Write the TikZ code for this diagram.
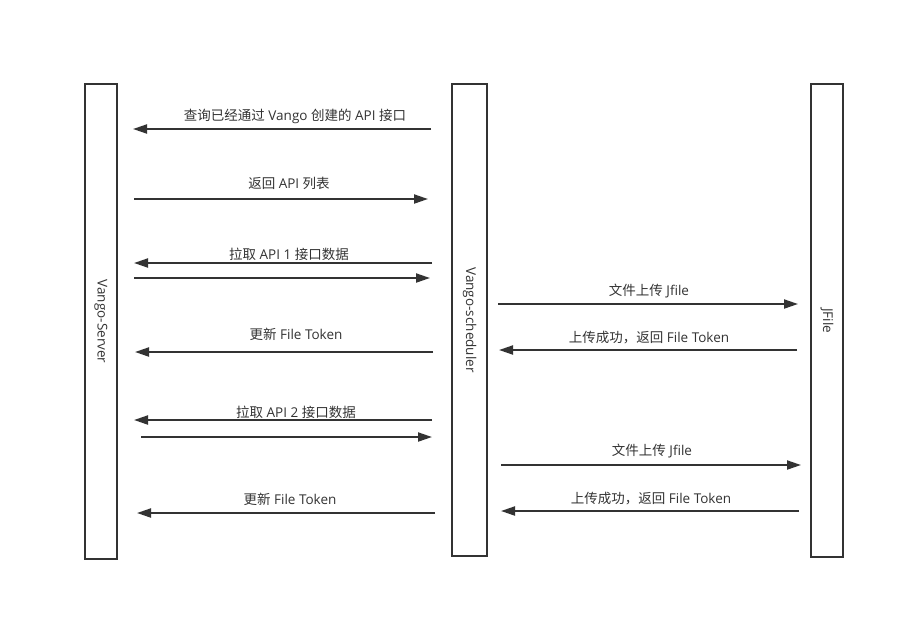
\documentclass[tikz,border=0pt]{standalone}
\usepackage{fontspec}
\setmainfont{Open Sans}
\newfontfamily\cjk{Noto Sans CJK SC}
\usetikzlibrary{arrows.meta}
\definecolor{ink}{HTML}{333333}
\begin{document}
\begin{tikzpicture}[x=1pt,y=-1pt,
  lifebox/.style={draw=ink,line width=1.5pt,fill=white,inner sep=0pt},
  boxlabel/.style={rotate=-90,font=\fontsize{13.5}{16}\selectfont,text=ink,inner sep=0pt},
  msg/.style={draw=ink,line width=2pt,-{Triangle[length=14pt,width=9pt]}},
  msglabel/.style={font=\fontsize{13.5}{16}\selectfont,text=ink,inner sep=0pt}]
\useasboundingbox[fill=white] (0,0) rectangle (904,622);
% lifelines
\node[lifebox,minimum width=32pt,minimum height=475pt] (srv) at (101,321.5) {};
\node[lifebox,minimum width=35pt,minimum height=472pt] (sch) at (469.5,320) {};
\node[lifebox,minimum width=32pt,minimum height=473pt] (jf) at (827,320.5) {};
\node[boxlabel] (srvl) at (srv.center) {Vango-Server};
\node[boxlabel] (schl) at (sch.center) {Vango-scheduler};
\node[boxlabel] (jfl) at (jf.center) {JFile};
% end points
\coordinate (a1s) at (431,129); \coordinate (a1e) at (133,129);
\coordinate (a2s) at (134,199); \coordinate (a2e) at (428,199);
\coordinate (a3s) at (432,263); \coordinate (a3e) at (134,263);
\coordinate (a4s) at (134,278); \coordinate (a4e) at (430,278);
\coordinate (a5s) at (498,304); \coordinate (a5e) at (798,304);
\coordinate (a6s) at (797,350); \coordinate (a6e) at (499,350);
\coordinate (a7s) at (433,352); \coordinate (a7e) at (135,352);
\coordinate (a8s) at (432,420); \coordinate (a8e) at (134,420);
\coordinate (a9s) at (141,437); \coordinate (a9e) at (432,437);
\coordinate (a10s) at (501,465); \coordinate (a10e) at (801,465);
\coordinate (a11s) at (799,511); \coordinate (a11e) at (501,511);
\coordinate (a12s) at (435,513); \coordinate (a12e) at (137,513);
% messages
\draw[msg] (a1s) -- (a1e);
\draw[msg] (a2s) -- (a2e);
\draw[msg] (a3s) -- (a3e);
\draw[msg] (a4s) -- (a4e);
\draw[msg] (a5s) -- (a5e);
\draw[msg] (a6s) -- (a6e);
\draw[msg] (a7s) -- (a7e);
\draw[msg] (a8s) -- (a8e);
\draw[msg] (a9s) -- (a9e);
\draw[msg] (a10s) -- (a10e);
\draw[msg] (a11s) -- (a11e);
\draw[msg] (a12s) -- (a12e);
% labels
\node[msglabel] (l1) at (295,116) {{\cjk 查询已经通过} Vango {\cjk 创建的} API {\cjk 接口}};
\node[msglabel] (l2) at (289,183) {{\cjk 返回} API {\cjk 列表}};
\node[msglabel] (l3) at (289,254) {{\cjk 拉取} API 1 {\cjk 接口数据}};
\node[msglabel] (l5) at (649,291) {{\cjk 文件上传} Jfile};
\node[msglabel] (l6) at (649,338) {{\cjk 上传成功，返回} File Token};
\node[msglabel] (l7) at (296,334) {{\cjk 更新} File Token};
\node[msglabel] (l8) at (296,412) {{\cjk 拉取} API 2 {\cjk 接口数据}};
\node[msglabel] (l10) at (652,451) {{\cjk 文件上传} Jfile};
\node[msglabel] (l11) at (651,499) {{\cjk 上传成功，返回} File Token};
\node[msglabel] (l12) at (290,499) {{\cjk 更新} File Token};
\end{tikzpicture}
\end{document}
